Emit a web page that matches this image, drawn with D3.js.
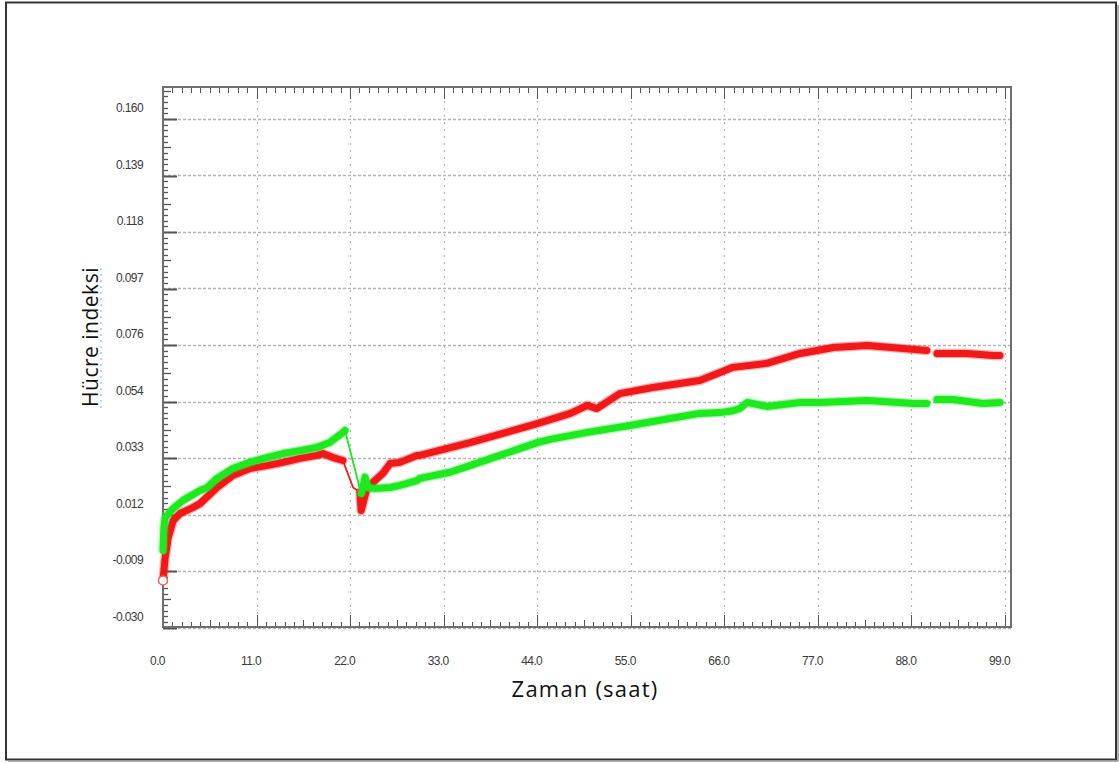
<!DOCTYPE html>
<html>
<head>
<meta charset="utf-8">
<script src="https://cdn.jsdelivr.net/npm/d3@7"></script>
<style>
  html, body { margin: 0; padding: 0; background: #fff; }
  svg { display: block; }
</style>
</head>
<body>
<svg id="chart" width="1119" height="763"></svg>
<script>
// ---------- data ----------
const xTickValues = [0, 11, 22, 33, 44, 55, 66, 77, 88, 99];
const xTickLabels = ["0.0", "11.0", "22.0", "33.0", "44.0", "55.0", "66.0", "77.0", "88.0", "99.0"];
const yTickValues = [-0.030, -0.00889, 0.01222, 0.03333, 0.05444, 0.07556, 0.09667, 0.11778, 0.13889, 0.160];
const yTickLabels = ["-0.030", "-0.009", "0.012", "0.033", "0.054", "0.076", "0.097", "0.118", "0.139", "0.160"];

// green series (hours, index); null = gap in measurement
const greenT = [0.0, 0.1, 0.25, 1.2, 2.35, 4.35, 5.2, 6.35, 8.2, 10.2, 12.2, 14.1, 16.1, 18.1, 19.6, 21.15, 21.4,
  23.3, 23.5, 23.75, 24.1, 24.9, 26.7, 27.85, 29.85, 30.2, 33.75, 36.1, 39.6, 44.0, 45.5, 49.9, 54.9, 59.6, 63.1, 65.5,
  67.0, 67.8, 68.7, 71.0, 74.9, 77.2, 82.8, 88.2, 89.8, 90.4, 91.0, 92.9, 96.4, 98.4];
const greenV = [-0.0012, 0.0070, 0.0111, 0.0145, 0.0175, 0.0212, 0.0223, 0.0257, 0.0294, 0.0317, 0.0335, 0.0350, 0.0361, 0.0373, 0.0391, 0.0429, 0.0436,
  0.0201, 0.0223, 0.0262, 0.0223, 0.0219, 0.0223, 0.0231, 0.0249, 0.0257, 0.0280, 0.0305, 0.0343, 0.0391, 0.0403, 0.0429, 0.0455, 0.0481, 0.0500, 0.0503,
  0.0510, 0.0518, 0.0541, 0.0526, 0.0541, 0.0541, 0.0548, 0.0537, 0.0537, null, 0.0552, 0.0552, 0.0537, 0.0541];
// index where the thin (medium change) connector starts / ends
const greenThin = [16, 17];

const redT = [0.0, 0.25, 0.6, 1.2, 2.0, 3.5, 4.35, 6.35, 8.2, 10.2, 12.2, 14.1, 16.1, 18.1, 18.8, 20.0, 21.15,
  22.35, 23.15, 23.3, 24.0, 25.85, 26.7, 27.85, 29.85, 30.2, 36.1, 44.0, 47.9, 49.9, 51.0, 53.7, 57.6, 63.1, 65.5, 67.0,
  71.0, 74.9, 76.9, 78.8, 82.8, 86.7, 89.8, 90.4, 91.0, 94.5, 97.6, 98.4];
const redV = [-0.0124, -0.0040, 0.0034, 0.0100, 0.0126, 0.0148, 0.0163, 0.0223, 0.0268, 0.0294, 0.0305, 0.0317, 0.0332, 0.0343, 0.0350, 0.0335, 0.0324,
  0.0223, 0.0205, 0.0137, 0.0223, 0.0276, 0.0313, 0.0317, 0.0343, 0.0343, 0.0391, 0.0462, 0.0500, 0.0530, 0.0518, 0.0574, 0.0597, 0.0623, 0.0653, 0.0672,
  0.0687, 0.0724, 0.0735, 0.0746, 0.0754, 0.0743, 0.0735, null, 0.0724, 0.0724, 0.0716, 0.0716];
const redThin = [16, 18];

const xTitle = "Zaman (saat)";
const yTitle = "Hücre indeksi";

// ---------- layout ----------
const svg = d3.select("#chart");
const frame = { left: 163, right: 1011, top: 87, bottom: 627 };
const x = d3.scaleLinear().domain([0, 99]).range([163, 1005]);
const y = d3.scaleLinear().domain([-0.030, 0.160]).range([627.5, 119]);

// outer border
svg.append("rect").attr("x", 6).attr("y", 2.5).attr("width", 1110).attr("height", 757)
  .attr("fill", "#fff").attr("stroke", "#333").attr("stroke-width", 2);
svg.append("line").attr("x1", 8).attr("x2", 1118).attr("y1", 761).attr("y2", 761).attr("stroke", "#999").attr("stroke-width", 1.5);
svg.append("line").attr("x1", 1118).attr("x2", 1118).attr("y1", 5).attr("y2", 761).attr("stroke", "#999").attr("stroke-width", 1.5);

// gridlines
const g = svg.append("g");
g.selectAll("line.hg").data(yTickValues).join("line")
  .attr("x1", frame.left).attr("x2", frame.right)
  .attr("y1", d => Math.round(y(d)) + 0.5).attr("y2", d => Math.round(y(d)) + 0.5)
  .attr("stroke", "#b4b4b4").attr("stroke-width", 1.6).attr("stroke-dasharray", "3,2");
g.selectAll("line.vg").data(xTickValues.slice(1)).join("line")
  .attr("x1", d => Math.round(x(d)) + 0.5).attr("x2", d => Math.round(x(d)) + 0.5)
  .attr("y1", frame.top).attr("y2", frame.bottom)
  .attr("stroke", "#b4b4b4").attr("stroke-width", 1.2).attr("stroke-dasharray", "2,5");

// minor ticks
const tk = svg.append("g").attr("stroke", "#555").attr("stroke-width", 1);
const yStep = (yTickValues[1] - yTickValues[0]) / 10;
const yMinor = d3.range(0, 97).map(i => -0.030 + i * yStep).filter(v => y(v) > frame.top + 2);
tk.selectAll("line.ym").data(yMinor).join("line")
  .attr("x1", frame.left).attr("y1", d => Math.round(y(d)) + 0.5).attr("y2", d => Math.round(y(d)) + 0.5)
  .attr("x2", (d, i) => frame.left + (i % 10 === 0 ? 14 : (i % 5 === 0 ? 8 : 5)))
  .attr("stroke-width", (d, i) => i % 10 === 0 ? 2 : 1.3);
const xMinor = d3.range(0, 91).map(i => i * 1.1);
tk.selectAll("line.xm").data(xMinor).join("line")
  .attr("x1", d => Math.round(x(d)) + 0.5).attr("x2", d => Math.round(x(d)) + 0.5)
  .attr("y1", frame.bottom).attr("y2", (d, i) => frame.bottom - (i % 10 === 0 ? 12 : (i % 5 === 0 ? 7 : 5)));
tk.selectAll("line.xt").data(xMinor).join("line")
  .attr("x1", d => Math.round(x(d)) + 0.5).attr("x2", d => Math.round(x(d)) + 0.5)
  .attr("y1", frame.top).attr("y2", (d, i) => frame.top + (i % 10 === 0 ? 12 : 6));

// frame
svg.append("rect").attr("x", frame.left).attr("y", frame.top)
  .attr("width", frame.right - frame.left).attr("height", frame.bottom - frame.top)
  .attr("fill", "none").attr("stroke", "#6e6e6e").attr("stroke-width", 2);

// axes labels via d3 axes
const yAxis = d3.axisLeft(y).tickValues(yTickValues).tickFormat((d, i) => yTickLabels[i]).tickSize(0).tickPadding(0);
const ya = svg.append("g").attr("transform", `translate(${143},${-11})`).call(yAxis);
ya.select(".domain").remove();
ya.selectAll("text").attr("font-family", "'Liberation Sans Narrow','Liberation Sans',Arial,sans-serif")
  .attr("font-size", 12).attr("letter-spacing", -0.6).attr("fill", "#3a3a3a");

const xAxis = d3.axisBottom(x).tickValues(xTickValues).tickFormat((d, i) => xTickLabels[i]).tickSize(0).tickPadding(0);
const xa = svg.append("g").attr("transform", `translate(${-6},${656})`).call(xAxis);
xa.select(".domain").remove();
xa.selectAll("text").attr("font-family", "'Liberation Sans Narrow','Liberation Sans',Arial,sans-serif")
  .attr("font-size", 12).attr("letter-spacing", -0.6).attr("fill", "#3a3a3a");

// series
function drawSeries(T, V, thin, color) {
  const pts = T.map((t, i) => ({ t, v: V[i], i }));
  const line = d3.line().defined(d => d.v !== null).x(d => x(d.t)).y(d => y(d.v));
  const thick1 = pts.filter(d => d.i <= thin[0]);
  const conn = pts.filter(d => d.i >= thin[0] && d.i <= thin[1]);
  const thick2 = pts.filter(d => d.i >= thin[1]);
  svg.append("path").attr("d", line(conn)).attr("fill", "none").attr("stroke", color).attr("stroke-width", 1.8);
  [thick1, thick2].forEach(seg => {
    svg.append("path").attr("d", line(seg)).attr("fill", "none").attr("stroke", color).attr("stroke-opacity", 0.35)
      .attr("stroke-width", 9.5).attr("stroke-linejoin", "round").attr("stroke-linecap", "round");
    svg.append("path").attr("d", line(seg)).attr("fill", "none").attr("stroke", color)
      .attr("stroke-width", 7).attr("stroke-linejoin", "round").attr("stroke-linecap", "round");
  });
}
drawSeries(redT, redV, redThin, "#f01818");
drawSeries(greenT, greenV, greenThin, "#1ee81e");
svg.append("circle").attr("cx", x(redT[0])).attr("cy", y(redV[0])).attr("r", 4.5)
  .attr("fill", "#fff").attr("stroke", "#f26060").attr("stroke-width", 1.5);

// titles
svg.append("text").attr("x", 585).attr("y", 697).attr("text-anchor", "middle")
  .attr("font-family", "'Open Sans', sans-serif").attr("font-size", 22).attr("fill", "#111")
  .attr("letter-spacing", 1.2).text(xTitle);
svg.append("text").attr("transform", "translate(98,337) rotate(-90)").attr("text-anchor", "middle")
  .attr("font-family", "'Open Sans', sans-serif").attr("font-size", 21).attr("fill", "#111")
  .attr("letter-spacing", 0.5).text(yTitle);

// faint selection artifact near y title
svg.append("line").attr("x1", 101).attr("x2", 101).attr("y1", 268).attr("y2", 410)
  .attr("stroke", "#7cc4ee").attr("stroke-width", 1.2).attr("stroke-dasharray", "2,4");
</script>
</body>
</html>
